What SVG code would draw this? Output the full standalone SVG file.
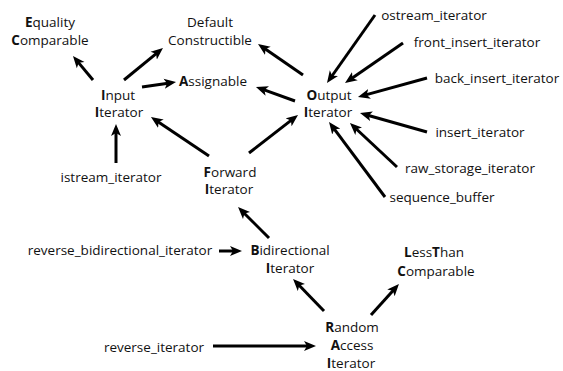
<svg xmlns="http://www.w3.org/2000/svg" width="563" height="371" viewBox="0 0 563 371">
<style>
text{font-family:"Open Sans","Noto Sans","Liberation Sans",sans-serif;font-size:13.5px;fill:#111;text-anchor:middle}
.b{font-weight:700}
.c line{stroke:#000;stroke-width:3;fill:none;marker-end:url(#ah)}
</style>
<defs>
<marker id="ah" markerUnits="userSpaceOnUse" markerWidth="13" markerHeight="11" refX="4" refY="5" orient="auto" viewBox="0 0 13 10">
<path d="M0,0 L12,5 L0,10 L3,5 z" fill="#000"/>
</marker>
</defs>
<rect width="563" height="371" fill="#fff"/>
<g id="equality"><text x="50" y="27"><tspan class="b">E</tspan>quality</text><text x="50" y="45"><tspan class="b">C</tspan>omparable</text></g>
<g id="default"><text x="210" y="27">Default</text><text x="210" y="45">Constructible</text></g>
<g id="assignable"><text x="213" y="86"><tspan class="b">A</tspan>ssignable</text></g>
<g id="input"><text x="118" y="100"><tspan class="b">I</tspan>nput</text><text x="119" y="117"><tspan class="b">I</tspan>terator</text></g>
<g id="output"><text x="329" y="100"><tspan class="b">O</tspan>utput</text><text x="328" y="117"><tspan class="b">I</tspan>terator</text></g>
<g id="ostream"><text x="434" y="20">ostream_iterator</text></g>
<g id="front"><text x="477" y="47">front_insert_iterator</text></g>
<g id="back"><text x="497" y="83">back_insert_iterator</text></g>
<g id="insert"><text x="480" y="137">insert_iterator</text></g>
<g id="rawstorage"><text x="470" y="173">raw_storage_iterator</text></g>
<g id="seqbuf"><text x="442" y="202">sequence_buffer</text></g>
<g id="istream"><text x="111" y="182">istream_iterator</text></g>
<g id="forward"><text x="230" y="177"><tspan class="b">F</tspan>orward</text><text x="229" y="194"><tspan class="b">I</tspan>terator</text></g>
<g id="revbidi"><text x="120" y="255">reverse_bidirectional_iterator</text></g>
<g id="bidi"><text x="290" y="255"><tspan class="b">B</tspan>idirectional</text><text x="290" y="273"><tspan class="b">I</tspan>terator</text></g>
<g id="lessthan"><text x="434" y="257"><tspan class="b">L</tspan>ess<tspan class="b">T</tspan>han</text><text x="436" y="276"><tspan class="b">C</tspan>omparable</text></g>
<g id="random"><text x="352" y="332"><tspan class="b">R</tspan>andom</text><text x="352" y="350"><tspan class="b">A</tspan>ccess</text><text x="351" y="368"><tspan class="b">I</tspan>terator</text></g>
<g id="reviter"><text x="154" y="352">reverse_iterator</text></g>
<g class="c" id="connectors">
<line x1="93" y1="80" x2="78.1" y2="62.1"/>
<line x1="124" y1="80" x2="156.8" y2="53.1"/>
<line x1="142" y1="87" x2="168.1" y2="83.2"/>
<line x1="303" y1="75" x2="264.6" y2="48.5"/>
<line x1="295" y1="101" x2="263.5" y2="89.7"/>
<line x1="209" y1="156" x2="157.6" y2="121.5"/>
<line x1="249" y1="153" x2="291.7" y2="119.9"/>
<line x1="116" y1="163" x2="116" y2="132"/>
<line x1="375" y1="15" x2="331.6" y2="76.5"/>
<line x1="403" y1="43" x2="351.6" y2="78.5"/>
<line x1="427" y1="78" x2="365.7" y2="94.9"/>
<line x1="427" y1="132" x2="367.7" y2="115.2"/>
<line x1="397" y1="167" x2="355.8" y2="128.5"/>
<line x1="385" y1="197" x2="333.8" y2="128.4"/>
<line x1="269" y1="238" x2="243.7" y2="212.7"/>
<line x1="219" y1="251" x2="234" y2="251"/>
<line x1="324" y1="311" x2="298.6" y2="284.7"/>
<line x1="371" y1="315" x2="393.6" y2="289.9"/>
<line x1="213" y1="346" x2="308" y2="346"/>
</g>
</svg>
